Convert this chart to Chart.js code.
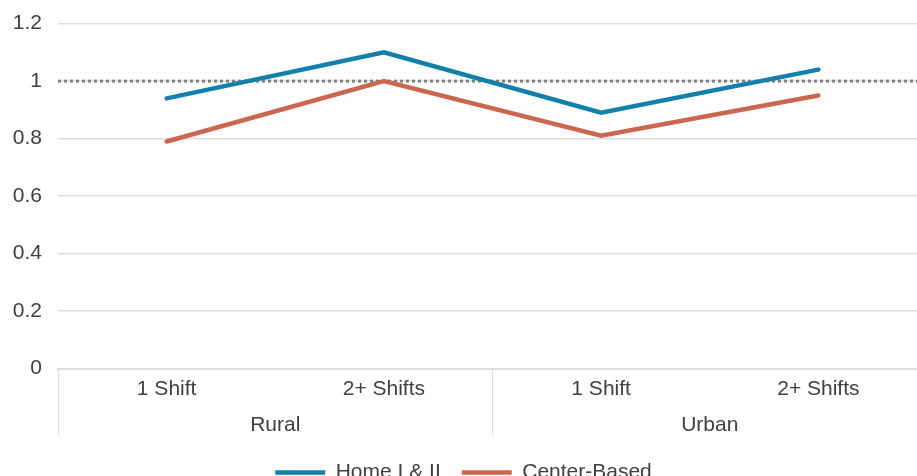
<!DOCTYPE html>
<html>
<head>
<meta charset="utf-8">
<script src="https://cdn.jsdelivr.net/npm/chart.js@4"></script>
<style>
  html, body { margin: 0; padding: 0; overflow: hidden; background: #fff; }
  #wrap { width: 917px; height: 476px; overflow: hidden; }
</style>
</head>
<body>
<div id="wrap"><canvas id="grafico" width="927" height="493"></canvas></div>
<script>
// dados
const categorias = ['1 Shift', '2+ Shifts', '1 Shift', '2+ Shifts'];
const grupos = ['Rural', 'Urban'];
const home = [0.94, 1.10, 0.89, 1.04];
const centro = [0.79, 1.00, 0.81, 0.95];
const referencia = 1;

const corTexto = '#404040';
const corGrade = '#dedede';
const fonte = { family: 'Liberation Sans, Arial, sans-serif', size: 21 };

// linha pontilhada em 1 e separadores dos grupos
const extras = {
    id: 'extras',
    beforeDatasetsDraw(chart) {
        const ctx = chart.ctx;
        const y = chart.scales.y.getPixelForValue(referencia);
        const area = chart.chartArea;
        ctx.save();
        ctx.strokeStyle = '#7f7f7f';
        ctx.lineWidth = 3;
        ctx.setLineDash([3, 3]);
        ctx.beginPath();
        ctx.moveTo(area.left, y);
        ctx.lineTo(area.right, y);
        ctx.stroke();
        ctx.restore();
    },
    afterDraw(chart) {
        const ctx = chart.ctx;
        const x = chart.scales.x;
        const area = chart.chartArea;
        const meio = (x.getPixelForValue(1) + x.getPixelForValue(2)) / 2;
        ctx.save();
        ctx.strokeStyle = corGrade;
        ctx.lineWidth = 1;
        [area.left + 0.5, meio, area.right - 0.5].forEach(px => {
            ctx.beginPath();
            ctx.moveTo(px, area.bottom);
            ctx.lineTo(px, area.bottom + 67);
            ctx.stroke();
        });
        ctx.restore();
    }
};

const grafico = new Chart(document.getElementById('grafico').getContext('2d'), {
    type: 'line',
    data: {
        labels: categorias,
        datasets: [
            {
                label: 'Home I & II',
                data: home,
                borderColor: '#1380ab',
                backgroundColor: '#1380ab',
                borderWidth: 4.5,
                borderCapStyle: 'round',
                pointRadius: 0,
                tension: 0
            },
            {
                label: 'Center-Based',
                data: centro,
                borderColor: '#cb6650',
                backgroundColor: '#cb6650',
                borderWidth: 4.5,
                borderCapStyle: 'round',
                pointRadius: 0,
                tension: 0
            }
        ]
    },
    options: {
        responsive: false,
        animation: false,
        layout: { padding: 0 },
        plugins: {
            tooltip: { enabled: false },
            legend: {
                position: 'bottom',
                labels: {
                    usePointStyle: true,
                    pointStyle: 'line',
                    pointStyleWidth: 50,
                    boxWidth: 50,
                    boxHeight: 4,
                    padding: 21,
                    color: corTexto,
                    font: fonte
                }
            }
        },
        scales: {
            x: {
                offset: true,
                grid: { display: false, drawTicks: false },
                border: { display: true, color: corGrade, width: 2 },
                ticks: {
                    color: corTexto,
                    padding: 8,
                    maxRotation: 0,
                    font: fonte
                }
            },
            x2: {
                type: 'category',
                labels: grupos,
                offset: true,
                position: 'bottom',
                grid: { display: false, drawTicks: false },
                border: { display: false },
                ticks: {
                    color: corTexto,
                    padding: 3,
                    font: fonte
                }
            },
            y: {
                min: 0,
                max: 1.2,
                grid: { color: corGrade, tickColor: 'rgba(0,0,0,0)', tickLength: 5, lineWidth: 1.5 },
                border: { display: false },
                ticks: {
                    stepSize: 0.2,
                    color: corTexto,
                    padding: 11,
                    font: fonte,
                    callback: v => String(Math.round(v * 10) / 10)
                },
                afterFit(scale) { scale.width = 58; }
            }
        }
    },
    plugins: [extras]
});
</script>
</body>
</html>
